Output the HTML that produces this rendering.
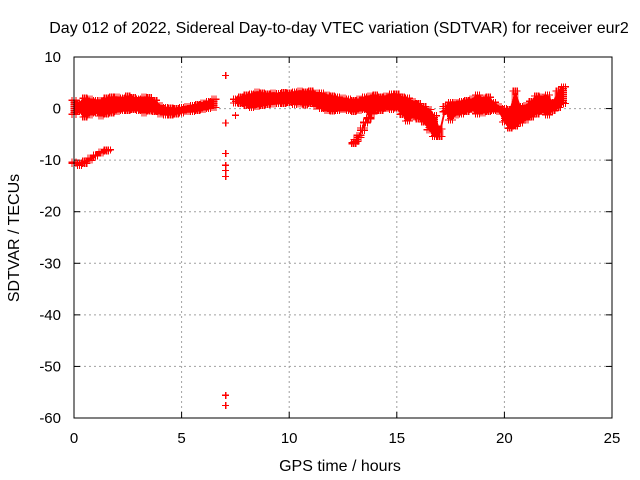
<!DOCTYPE html>
<html><head><meta charset="utf-8"><style>
body{margin:0;background:#fff}
svg{display:block;font-family:"Liberation Sans",sans-serif;font-size:15px}
</style></head><body>
<svg id="chart" width="640" height="480" viewBox="0 0 640 480">
<rect width="640" height="480" fill="#fff"/>
<text x="339" y="33" text-anchor="middle" font-size="16">Day 012 of 2022, Sidereal Day-to-day VTEC variation (SDTVAR) for receiver eur2</text>
<text x="340" y="471" text-anchor="middle" font-size="16">GPS time / hours</text>
<text transform="translate(19,238) rotate(-90)" text-anchor="middle" font-size="16">SDTVAR / TECUs</text>
<g id="grid"></g>
<g id="ticks"></g>
<g id="marks"></g>
<rect x="74" y="57" width="538" height="361" fill="none" stroke="#000" stroke-width="1"/>
</svg>
<script>
const xTicks=[0,5,10,15,20,25];
const yTicks=[10,0,-10,-20,-30,-40,-50,-60];
const bandT=[0,0.25,0.5,0.75,1,1.25,1.5,1.75,2,2.25,2.5,2.75,3,3.25,3.5,3.75,4,4.25,4.5,4.75,5,5.25,5.5,5.75,6,6.25,6.5,
7.5,7.75,8,8.25,8.5,8.75,9,9.25,9.5,9.75,10,10.25,10.5,10.75,11,11.25,11.5,11.75,12,12.25,12.5,12.75,13,13.25,13.5,13.75,14,14.25,14.5,14.75,15,15.25,15.5,15.75,16,16.25,16.5,16.75,17,
17.25,17.5,17.75,18,18.25,18.5,18.75,19,19.25,19.5,19.75,20,20.25,20.5,20.75,21,21.25,21.5,21.75,22,22.25,22.5,22.75];
const bandHi=[2.0,1.5,2.4,2.2,2.0,2.0,2.4,2.6,2.6,2.4,2.8,2.5,2.2,2.6,2.5,2.0,1.0,0.6,0.5,0.4,0.6,0.8,1.0,1.2,1.5,1.8,2.2,
2.2,2.6,3.0,3.2,3.6,3.4,3.2,3.4,3.3,3.5,3.4,3.6,3.8,3.6,3.8,3.4,3.4,3.0,2.8,2.6,2.4,2.2,2.0,2.2,2.6,2.8,3.0,2.6,2.8,3.2,3.2,2.6,2.4,1.8,1.4,0.8,0.2,-1.0,-3.6,
0.8,1.6,1.6,1.8,2.0,2.2,3.0,2.4,2.6,1.6,0.8,0.4,0.2,3.8,0.8,1.0,1.8,2.8,2.6,3.0,1.6,3.8,4.6];
const bandLo=[-1.5,-1.0,-2.0,-1.6,-1.2,-1.8,-1.4,-1.2,-1.0,-0.8,-0.8,-0.6,-0.8,-1.2,-0.9,-1.0,-1.4,-1.6,-1.6,-1.4,-1.2,-1.0,-1.0,-0.8,-0.6,-0.4,-0.2,
0.7,0.6,0.2,-0.2,0,0.2,0.4,0.5,0.6,0.6,0.8,0.4,0.5,0.3,0.6,0,-0.4,-0.8,-0.9,-0.8,-0.6,-0.8,-1.0,-0.8,-0.6,-1.0,-0.8,-0.8,-0.4,-0.6,-0.3,-1.5,-2.8,-2.0,-2.4,-3.0,-4.5,-5.8,-5.8,
-1.0,-2.6,-1.6,-1.4,-1.0,-0.6,-1.4,-1.2,-1.0,-0.8,-1.0,-3.0,-4.2,-3.8,-3.2,-2.6,-2.0,-1.4,-1.0,-1.6,-0.8,-0.2,0.6];
const dipT=[13.0,13.1,13.25,13.4,13.55,13.7,13.85];
const dipLo=[-7.2,-6.8,-6.0,-4.6,-3.2,-2.4,-1.4];
const dipHi=[-6.2,-5.6,-4.8,-3.4,-2.2,-1.4,-0.4];
const lowT=[0,0.25,0.5,0.75,1.0,1.25,1.5,1.6];
const lowLo=[-11.0,-11.4,-11.0,-10.4,-9.6,-9.0,-8.6,-8.4];
const lowHi=[-10.0,-10.2,-9.8,-9.2,-8.6,-8.0,-7.6,-7.6];
const outT=[7.05,7.05,7.05,7.05,7.05,7.05,7.05,7.05,7.5];
const outV=[6.4,-2.8,-8.7,-11,-12,-13.2,-55.6,-57.6,-1.3];

const X0=74,X1=612,Y0=418,Y1=57;
const sx=t=>X0+(t-0)/(25-0)*(X1-X0);
const sy=v=>Y0-(v+60)/(70)*(Y0-Y1);
const NS="http://www.w3.org/2000/svg";
const grid=document.getElementById('grid'),ticks=document.getElementById('ticks'),marks=document.getElementById('marks');
function mk(tag,attrs,parent){const e=document.createElementNS(NS,tag);for(const k in attrs)e.setAttribute(k,attrs[k]);parent.appendChild(e);return e;}
xTicks.forEach(t=>{const x=sx(t);
 if(t>0&&t<25){const g=mk('line',{x1:x,y1:Y0,x2:x,y2:Y1,stroke:'#a0a0a0','stroke-dasharray':'2,3'},grid);
 
 }
 mk('line',{x1:x,y1:Y0,x2:x,y2:Y0-6,stroke:'#000'},ticks);
 mk('line',{x1:x,y1:Y1,x2:x,y2:Y1+6,stroke:'#000'},ticks);
 const l=mk('text',{x:x,y:Y0+25,'text-anchor':'middle'},ticks);l.textContent=t;
 
 
});
yTicks.forEach(v=>{const y=sy(v);
 if(v<10&&v>-60){const g=mk('line',{x1:X0,y1:y,x2:X1,y2:y,stroke:'#a0a0a0','stroke-dasharray':'2,3'},grid);
 
 }
 mk('line',{x1:X0,y1:y,x2:X0+6,y2:y,stroke:'#000'},ticks);
 mk('line',{x1:X1,y1:y,x2:X1-6,y2:y,stroke:'#000'},ticks);
 const l=mk('text',{x:X0-13,y:y+5,'text-anchor':'end'},ticks);l.textContent=v;
 
 
});
function plus(x,y){return `M${(x-3.5).toFixed(1)} ${y.toFixed(1)}h7M${x.toFixed(1)} ${(y-3.5).toFixed(1)}v7`;}
function bandPath(T,Lo,Hi){let d='';for(let i=0;i<T.length;i++){const x=sx(T[i]);const yt=sy(Hi[i]),yb=sy(Lo[i]);
 for(let y=yt+2;y<=yb-2+0.01;y+=2)d+=plus(x,y);
 if(yb-yt<4)d+=plus(x,(yt+yb)/2);
 for(let dx=-2;dx<=2;dx+=2)d+=plus(x+dx,yt+2)+plus(x+dx,Math.max(yt+2,yb-2));}
 return d;}
function fillPath(T,Lo,Hi){let d='';for(let i=0;i<T.length-1;i++){if(T[i+1]-T[i]>0.5)continue;
 d+=`M${sx(T[i]).toFixed(1)} ${(sy(Hi[i])+1).toFixed(1)}L${sx(T[i+1]).toFixed(1)} ${(sy(Hi[i+1])+1).toFixed(1)}L${sx(T[i+1]).toFixed(1)} ${(sy(Lo[i+1])-1).toFixed(1)}L${sx(T[i]).toFixed(1)} ${(sy(Lo[i])-1).toFixed(1)}Z`;}
 return d;}
const sets=[[bandT,bandLo,bandHi,'main-band'],[dipT,dipLo,dipHi,'dip-branch'],[lowT,lowLo,lowHi,'low-segment']];
sets.forEach(s=>{
 const f=mk('path',{d:fillPath(s[0],s[1],s[2]),fill:'#f00',stroke:'none'},marks);
 
 
 const p=mk('path',{d:bandPath(s[0],s[1],s[2]),stroke:'#f00','stroke-width':1.2,fill:'none','shape-rendering':'crispEdges'},marks);
 
 
});
let od='';outT.forEach((t,i)=>{od+=plus(sx(t),sy(outV[i]));});
const p4=mk('path',{d:od,stroke:'#f00','stroke-width':1.2,fill:'none','shape-rendering':'crispEdges'},marks);


</script>
</body></html>
